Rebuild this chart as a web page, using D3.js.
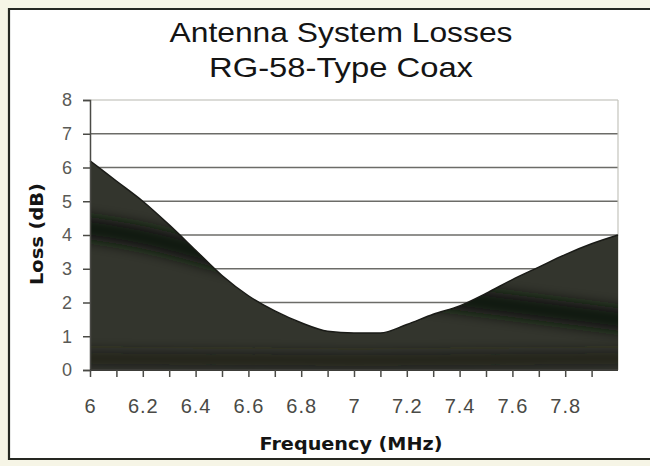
<!DOCTYPE html>
<html>
<head>
<meta charset="utf-8">
<script src="https://cdn.jsdelivr.net/npm/d3@7"></script>
<style>
  html, body { margin: 0; padding: 0; background: #f6f5e6; }
  svg { display: block; }
</style>
</head>
<body>
<svg id="chart" width="650" height="466"></svg>
<script>
// Loss of the antenna system with RG-58 coax, sampled every 0.1 MHz
const frequency = [6.0, 6.1, 6.2, 6.3, 6.4, 6.5, 6.6, 6.7, 6.8, 6.9, 7.0,
                   7.1, 7.2, 7.3, 7.4, 7.5, 7.6, 7.7, 7.8, 7.9, 8.0];
const lossDb    = [6.2, 5.6, 5.0, 4.3, 3.55, 2.8, 2.2, 1.75, 1.4, 1.15, 1.1,
                   1.1, 1.35, 1.65, 1.9, 2.27, 2.68, 3.05, 3.42, 3.74, 4.0];

const xTickValues = [6.0, 6.1, 6.2, 6.3, 6.4, 6.5, 6.6, 6.7, 6.8, 6.9,
                     7.0, 7.1, 7.2, 7.3, 7.4, 7.5, 7.6, 7.7, 7.8, 7.9];
const xTickLabels = ["6", "6.2", "6.4", "6.6", "6.8", "7", "7.2", "7.4", "7.6", "7.8"];
const yTickValues = [0, 1, 2, 3, 4, 5, 6, 7, 8];

const titleLines = ["Antenna System Losses", "RG-58-Type Coax"];
const xTitle = "Frequency (MHz)";
const yTitle = "Loss (dB)";

const svg = d3.select("#chart");
const plot = { left: 90, right: 618, top: 100, bottom: 370 };

const x = d3.scaleLinear().domain([6, 8]).range([plot.left, plot.right]);
const y = d3.scaleLinear().domain([0, 8]).range([plot.bottom, plot.top]);

// Chart frame on the cream page
svg.append("rect")
  .attr("x", 8).attr("y", 8).attr("width", 642).attr("height", 452)
  .attr("fill", "#ffffff");
svg.append("path")
  .attr("d", "M650,9 L9,9 L9,459 L650,459")
  .attr("fill", "none").attr("stroke", "#262822").attr("stroke-width", 2.2);

// Title
svg.append("g").selectAll("text").data(titleLines).join("text")
  .attr("x", 341).attr("y", (d, i) => 42 + i * 35)
  .attr("text-anchor", "middle")
  .attr("font-family", "Liberation Sans, Arial, sans-serif")
  .attr("font-size", 28)
  .attr("fill", "#141414")
  .attr("textLength", (d, i) => i === 0 ? 343 : 264)
  .attr("lengthAdjust", "spacingAndGlyphs")
  .text(d => d);

// Horizontal gridlines
svg.append("g").selectAll("line").data(yTickValues.filter(v => v > 0)).join("line")
  .attr("x1", plot.left).attr("x2", plot.right)
  .attr("y1", d => y(d)).attr("y2", d => y(d))
  .attr("stroke", d => d === 8 ? "#b8b8b0" : "#6c6c68")
  .attr("stroke-width", d => d === 8 ? 1.2 : 1.5);

// Right edge of the plot area
svg.append("line")
  .attr("x1", plot.right).attr("x2", plot.right)
  .attr("y1", plot.top).attr("y2", plot.bottom)
  .attr("stroke", "#c4c4bc").attr("stroke-width", 1.2);

// Area under the loss curve
const points = frequency.map((f, i) => ({ f, v: lossDb[i] }));
const area = d3.area()
  .x(d => x(d.f))
  .y0(y(0))
  .y1(d => y(d.v))
  .curve(d3.curveMonotoneX);

const defs = svg.append("defs");
defs.append("clipPath").attr("id", "areaClip")
  .append("path").attr("d", area(points));
defs.append("filter").attr("id", "soft")
  .attr("filterUnits", "userSpaceOnUse")
  .attr("x", 0).attr("y", 0).attr("width", 650).attr("height", 466)
  .append("feGaussianBlur").attr("stdDeviation", 7);

svg.append("path")
  .attr("d", area(points))
  .attr("fill", "#33352d");

// Darker printed band running through the fill
const band = d3.line().curve(d3.curveBasis)
  .x(d => x(d[0])).y(d => y(d[1]));
const shade = svg.append("g").attr("clip-path", "url(#areaClip)");
shade.append("path")
  .attr("d", band([[5.9, 4.3], [6.2, 4.0], [6.5, 3.3], [6.9, 2.6], [7.3, 2.2], [7.7, 1.8], [8.1, 1.4]]))
  .attr("fill", "none").attr("stroke", "#111210").attr("stroke-width", 22)
  .attr("filter", "url(#soft)");
shade.append("path")
  .attr("d", band([[5.9, 0.35], [7.0, 0.25], [8.1, 0.35]]))
  .attr("fill", "none").attr("stroke", "#1c1d19").attr("stroke-width", 12)
  .attr("filter", "url(#soft)");

svg.append("path")
  .attr("d", d3.line().x(d => x(d.f)).y(d => y(d.v)).curve(d3.curveMonotoneX)(points))
  .attr("fill", "none").attr("stroke", "#1a1b17").attr("stroke-width", 1.5);

// Y axis
const yAxis = svg.append("g")
  .attr("transform", `translate(${plot.left},0)`)
  .call(d3.axisLeft(y).tickValues(yTickValues).tickSize(7).tickPadding(11));
yAxis.select(".domain").attr("stroke", "#4a4a46").attr("stroke-width", 1.5);
yAxis.selectAll(".tick line").attr("stroke", "#4a4a46").attr("stroke-width", 1.5);
yAxis.selectAll(".tick text")
  .attr("font-family", "Liberation Sans, Arial, sans-serif")
  .attr("font-size", 18)
  .attr("fill", "#5a5a56");

// X axis
const labelFor = v => {
  const s = String(+v.toFixed(1));
  return xTickLabels.includes(s) ? s : "";
};
const xAxis = svg.append("g")
  .attr("transform", `translate(0,${plot.bottom})`)
  .call(d3.axisBottom(x).tickValues(xTickValues).tickSize(7).tickFormat(labelFor));
xAxis.select(".domain").attr("stroke", "#3c3c38").attr("stroke-width", 1.8)
  .attr("d", `M${plot.left},0H${plot.right}`);
xAxis.selectAll(".tick line").attr("stroke", "#4a4a46").attr("stroke-width", 1.5);
xAxis.selectAll(".tick text")
  .attr("y", 43).attr("dy", null)
  .attr("font-family", "Liberation Sans, Arial, sans-serif")
  .attr("font-size", 20)
  .attr("letter-spacing", 1)
  .attr("fill", "#4a4a46");

// Axis titles
svg.append("text")
  .attr("x", 351).attr("y", 450)
  .attr("text-anchor", "middle")
  .attr("font-family", "DejaVu Sans, Verdana, sans-serif")
  .attr("font-weight", "bold")
  .attr("font-size", 17)
  .attr("fill", "#141414")
  .attr("textLength", 183).attr("lengthAdjust", "spacingAndGlyphs")
  .text(xTitle);

svg.append("text")
  .attr("transform", "translate(43,234) rotate(-90)")
  .attr("text-anchor", "middle")
  .attr("font-family", "DejaVu Sans, Verdana, sans-serif")
  .attr("font-weight", "bold")
  .attr("font-size", 17)
  .attr("fill", "#141414")
  .attr("textLength", 102).attr("lengthAdjust", "spacingAndGlyphs")
  .text(yTitle);
</script>
</body>
</html>
